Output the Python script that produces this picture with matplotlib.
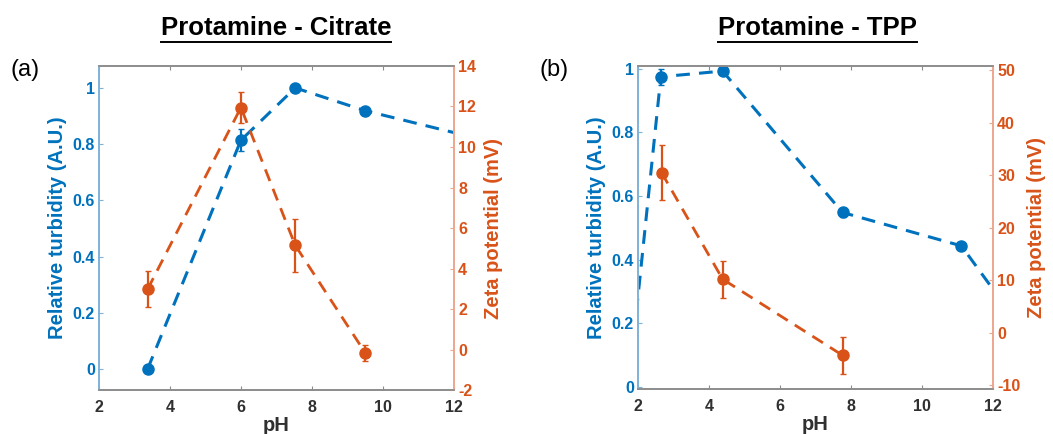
import matplotlib
matplotlib.use("Agg")
import matplotlib.pyplot as plt
from matplotlib.lines import Line2D

plt.rcParams['font.family'] = ['Liberation Sans', 'DejaVu Sans']

BLUE = '#0072BD'
ORANGE = '#D95319'

# ---------------- data: Protamine - Citrate ----------------
ph_cit_turb = [3.37, 6.0, 7.53, 9.5, 13.0]
turb_cit = [0.0, 0.814, 1.0, 0.919, 0.81]
turb_cit_err = [0.0, 0.04, 0.0, 0.0, 0.0]
ph_cit_zeta = [3.37, 6.0, 7.53, 9.5]
zeta_cit = [2.98, 11.95, 5.15, -0.15]
zeta_cit_err = [0.9, 0.77, 1.3, 0.4]

# ---------------- data: Protamine - TPP ----------------
ph_tpp_turb = [1.75, 2.64, 4.38, 7.76, 11.11, 12.7]
turb_tpp = [0.02, 0.974, 0.992, 0.548, 0.443, 0.2]
turb_tpp_err = [0.0, 0.025, 0.0, 0.015, 0.0, 0.0]
ph_tpp_zeta = [2.66, 4.38, 7.76]
zeta_tpp = [30.5, 10.2, -4.3]
zeta_tpp_err = [5.2, 3.5, 3.55]

titles = ['Protamine - Citrate', 'Protamine - TPP']
panel_labels = ['(a)', '(b)']
x_ticks = [2, 4, 6, 8, 10, 12]
left_ticks = [0, 0.2, 0.4, 0.6, 0.8, 1]
left_ticklabels = ['0', '0.2', '0.4', '0.6', '0.8', '1']
right_ticks = [[-2, 0, 2, 4, 6, 8, 10, 12, 14], [-10, 0, 10, 20, 30, 40, 50]]

fig = plt.figure(figsize=(10.53, 4.34), dpi=100)

panels = [
    dict(pos=[0.094, 0.101, 0.337, 0.747], lylim=(-0.075, 1.078), rylim=(-2, 14),
         pt=ph_cit_turb, t=turb_cit, te=turb_cit_err,
         pz=ph_cit_zeta, z=zeta_cit, ze=zeta_cit_err, rt=right_ticks[0],
         title_x=0.262, lab_x=0.010, ylab_x=-0.09, rlab_x=1.085),
    dict(pos=[0.606, 0.104, 0.337, 0.744], lylim=(-0.006, 1.008), rylim=(-10.7, 50.8),
         pt=ph_tpp_turb, t=turb_tpp, te=turb_tpp_err,
         pz=ph_tpp_zeta, z=zeta_tpp, ze=zeta_tpp_err, rt=right_ticks[1],
         title_x=0.776, lab_x=0.512, ylab_x=-0.09, rlab_x=1.095),
]

DASH = (0, (4.5, 3.0))

for i, p in enumerate(panels):
    ax = fig.add_axes(p['pos'])
    ax2 = ax.twinx()
    ax.set_xlim(2, 12)
    ax.set_ylim(*p['lylim'])
    ax2.set_ylim(*p['rylim'])

    ax.errorbar(p['pt'], p['t'], yerr=p['te'], color=BLUE, ls=DASH, lw=2.2,
                marker='o', ms=8, capsize=2.5, elinewidth=1.6, clip_on=True)
    ax2.errorbar(p['pz'], p['z'], yerr=p['ze'], color=ORANGE, ls=DASH, lw=2.0,
                 marker='o', ms=8, capsize=2.5, elinewidth=1.6, clip_on=True)

    ax.set_xticks(x_ticks)
    ax.set_xticklabels([str(v) for v in x_ticks])
    ax.set_yticks(left_ticks)
    ax.set_yticklabels(left_ticklabels)
    ax2.set_yticks(p['rt'])
    ax2.set_yticklabels([str(v) for v in p['rt']])

    for a in (ax, ax2):
        a.spines['top'].set_color('#8c8c8c')
        a.spines['bottom'].set_color('#8c8c8c')
        a.spines['left'].set_color('#7fb2d8')
        a.spines['right'].set_color('#eea58e')
        for s in a.spines.values():
            s.set_linewidth(1.2)

    ax.tick_params(axis='x', direction='in', length=3, color='#8c8c8c', labelsize=11.5,
                   labelcolor='#303030', top=True, pad=7)
    ax.tick_params(axis='y', direction='in', length=3, color='#7fb2d8', labelsize=11.5,
                   labelcolor=BLUE, pad=3)
    ax2.tick_params(axis='y', direction='in', length=3, color='#eea58e', labelsize=11.5,
                    labelcolor=ORANGE, pad=3)
    for lbl in ax.get_xticklabels() + ax.get_yticklabels() + ax2.get_yticklabels():
        lbl.set_fontweight('bold')

    ax.set_xlabel('pH', fontsize=14.5, fontweight='bold', color='#303030')
    ax.xaxis.set_label_coords(0.5, -0.08)
    ax.set_ylabel('Relative turbidity (A.U.)', fontsize=14.5, fontweight='bold', color=BLUE)
    ax.yaxis.set_label_coords(p['ylab_x'], 0.5)
    ax2.set_ylabel('Zeta potential (mV)', fontsize=14.5, fontweight='bold', color=ORANGE,
                   rotation=90)
    ax2.yaxis.set_label_coords(p['rlab_x'], 0.5)

    fig.text(p['lab_x'], 0.838, panel_labels[i], fontsize=17, color='black',
             ha='left', va='center')
    t = fig.text(p['title_x'], 0.935, titles[i], fontsize=18.5, fontweight='bold',
                 ha='center', va='center', color='black')
    p['title_artist'] = t

fig.canvas.draw()
renderer = fig.canvas.get_renderer()
inv = fig.transFigure.inverted()
for p in panels:
    bb = p['title_artist'].get_window_extent(renderer)
    (x0, y0), (x1, y1) = inv.transform([[bb.x0, bb.y0], [bb.x1, bb.y1]])
    fig.add_artist(Line2D([x0, x1], [y0 - 0.004, y0 - 0.004], transform=fig.transFigure,
                          color='black', lw=1.4))

fig.savefig('out.png', dpi=100)
